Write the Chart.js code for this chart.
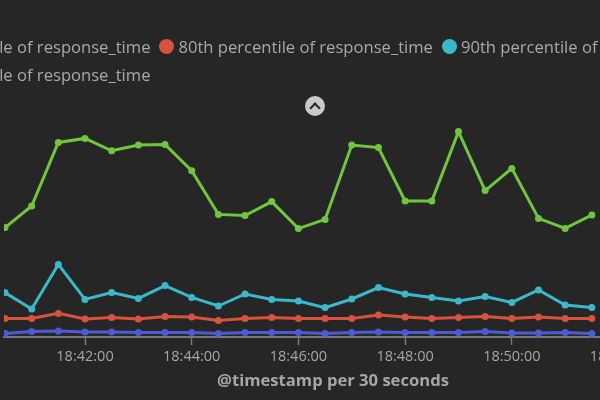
<!DOCTYPE html>
<html lang="en">
<head>
  <meta charset="UTF-8" />
  <title>response_time percentiles</title>
  <script src="https://cdn.jsdelivr.net/npm/chart.js"></script>
  <style>
    html, body {
      margin: 0;
      padding: 0;
      width: 600px;
      height: 400px;
      overflow: hidden;
      background: #262626;
      font-family: "Open Sans", sans-serif;
    }
    .wrap {
      position: relative;
      width: 600px;
      height: 400px;
      overflow: hidden;
    }
    .chart-box {
      position: absolute;
      left: 0;
      top: 0;
      width: 666px;
      height: 400px;
    }
    .legend {
      position: absolute;
      left: -123px;
      top: 32px;
      width: 880px;
      display: flex;
      flex-wrap: wrap;
      color: #a9a9a9;
      font-size: 16.6px;
    }
    .legend-item {
      display: flex;
      align-items: center;
      height: 28px;
      margin-right: 9px;
      white-space: nowrap;
    }
    .legend-dot {
      width: 15px;
      height: 15px;
      border-radius: 50%;
      margin-right: 4px;
    }
    .toggle {
      position: absolute;
      left: 305px;
      top: 96px;
      width: 20px;
      height: 20px;
      border-radius: 50%;
      background: #c9c9c9;
    }
    .toggle::after {
      content: "";
      position: absolute;
      left: 6px;
      top: 8px;
      width: 6px;
      height: 6px;
      border-left: 2.5px solid #262626;
      border-top: 2.5px solid #262626;
      transform: rotate(45deg);
    }
  </style>
</head>
<body>
  <div class="wrap">
    <div class="chart-box">
      <canvas id="chart" width="666" height="400"></canvas>
    </div>
    <div class="legend" id="legend"></div>
    <div class="toggle"></div>
  </div>

  <script>
    // bucket timestamps (30 second buckets)
    const times = ['18:40:30', '18:41:00', '18:41:30', '18:42:00', '18:42:30', '18:43:00', '18:43:30', '18:44:00',
      '18:44:30', '18:45:00', '18:45:30', '18:46:00', '18:46:30', '18:47:00', '18:47:30', '18:48:00',
      '18:48:30', '18:49:00', '18:49:30', '18:50:00', '18:50:30', '18:51:00', '18:51:30'];
    const tickLabels = ['18:42:00', '18:44:00', '18:46:00', '18:48:00', '18:50:00', '18:52:00'];

    const seriesNames = ['50th percentile of response_time', '80th percentile of response_time',
      '90th percentile of response_time', '99th percentile of response_time'];
    const seriesColors = ['#4b5bd8', '#d8533f', '#3cb8cb', '#70c63e'];

    const p50 = [18, 28, 30, 25, 25, 22, 22, 22, 17, 22, 23, 23, 17, 22, 25, 23, 22, 22, 27, 20, 20, 22, 18];
    const p80 = [93, 93, 118, 90, 98, 90, 102, 100, 82, 93, 97, 93, 93, 93, 110, 100, 93, 97, 102, 93, 100, 93, 93];
    const p90 = [222, 140, 363, 188, 222, 193, 257, 198, 155, 215, 188, 180, 147, 190, 247, 215, 198, 180, 202, 173, 235, 160, 147];
    const p99 = [547, 655, 973, 993, 931, 960, 963, 831, 613, 607, 677, 542, 588, 960, 947, 680, 680, 1027, 732, 843, 593, 543, 610];

    function toSec(t) {
      const p = t.split(':').map(Number);
      return p[0] * 3600 + p[1] * 60 + p[2];
    }
    function fmt(s) {
      const h = Math.floor(s / 3600);
      const m = Math.floor((s % 3600) / 60);
      const sec = s % 60;
      return [h, m, sec].map(v => String(v).padStart(2, '0')).join(':');
    }

    const xs = times.map(toSec);
    const xMin = xs[0] - 1.1;
    const xMax = xMin + 740;

    const seriesValues = [p50, p80, p90, p99];
    const datasets = seriesValues.map((vals, i) => ({
      label: seriesNames[i],
      data: vals.map((v, j) => ({ x: xs[j], y: v })),
      borderColor: seriesColors[i],
      backgroundColor: seriesColors[i],
      borderWidth: 3,
      pointRadius: 3.5,
      pointBorderWidth: 0,
      tension: 0
    }));

    // html legend
    const legend = document.getElementById('legend');
    seriesNames.forEach((name, i) => {
      const item = document.createElement('div');
      item.className = 'legend-item';
      const dot = document.createElement('span');
      dot.className = 'legend-dot';
      dot.style.background = seriesColors[i];
      const txt = document.createElement('span');
      txt.textContent = name;
      item.appendChild(dot);
      item.appendChild(txt);
      legend.appendChild(item);
    });

    const ctx = document.getElementById('chart').getContext('2d');
    const chart = new Chart(ctx, {
      type: 'line',
      data: { datasets: datasets },
      options: {
        responsive: false,
        animation: false,
        layout: { padding: { top: 97, left: 0, right: 0, bottom: 0 } },
        plugins: {
          legend: { display: false },
          tooltip: { enabled: false }
        },
        scales: {
          x: {
            type: 'linear',
            min: xMin,
            max: xMax,
            afterFit: (scale) => { scale.height = 63; },
            afterBuildTicks: (scale) => {
              scale.ticks = tickLabels.map(t => ({ value: toSec(t) }));
            },
            ticks: {
              autoSkip: false,
              maxRotation: 0,
              padding: 3,
              color: '#a6a6a6',
              font: { family: 'Open Sans', size: 14.5 },
              callback: (v) => fmt(v)
            },
            grid: {
              drawOnChartArea: false,
              drawTicks: true,
              tickLength: 8,
              tickColor: '#777',
              tickWidth: 1.5
            },
            border: { display: true, color: '#777', width: 2 },
            title: {
              display: true,
              text: '@timestamp per 30 seconds',
              color: '#a6a6a6',
              font: { family: 'Open Sans', size: 16.6, weight: 'bold' },
              padding: { top: 4, bottom: 9 }
            }
          },
          y: {
            display: false,
            min: 0,
            max: 1200
          }
        }
      }
    });
  </script>
</body>
</html>
